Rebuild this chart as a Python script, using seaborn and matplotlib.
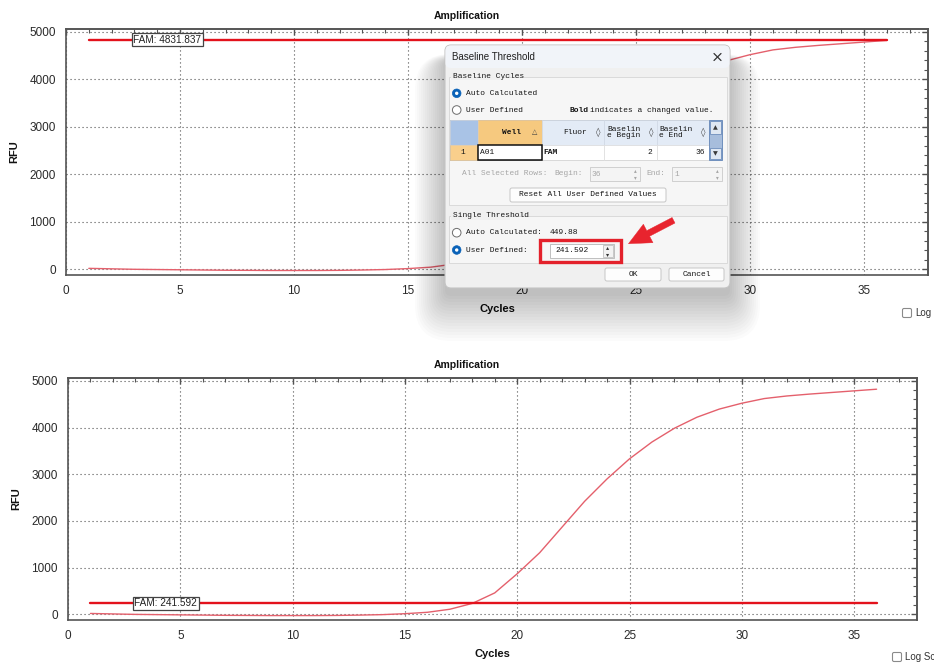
import matplotlib
matplotlib.use("Agg")
import matplotlib.pyplot as plt
import seaborn as sns
from matplotlib.patches import FancyBboxPatch, Rectangle, Circle, FancyArrowPatch
from matplotlib.ticker import MultipleLocator

# ---------------- data ----------------
cycles = list(range(1, 37))
rfu = [20, 10, 0, -5, -10, -15, -20, -22, -25, -25, -25, -22, -15, -5, 15, 45,
       110, 235, 460, 870, 1320, 1870, 2420, 2900, 3330, 3690, 3985, 4220,
       4395, 4520, 4620, 4675, 4715, 4750, 4785, 4820]
threshold_span = [1, 36]
threshold_top = 4831.837
threshold_bottom = 241.592
fluor = "FAM"
chart_title = "Amplification"
x_label = "Cycles"
y_label = "RFU"
x_ticks = [0, 5, 10, 15, 20, 25, 30, 35]
y_ticks = [0, 1000, 2000, 3000, 4000, 5000]
auto_threshold = "449.88"
baseline_begin = "2"
baseline_end = "36"
well = "A01"

sns.set_style("white")
plt.rcParams["font.family"] = ["Liberation Sans", "DejaVu Sans"]

W, H = 934, 664
fig = plt.figure(figsize=(W / 100, H / 100), dpi=100)


def rect(l, t, r, b):
    return [l / W, 1 - b / H, (r - l) / W, (b - t) / H]


CURVE = "#e4606c"
THR = "#e3121c"
AXC = "#555555"


def draw_chart(ax, thr, title_x):
    sns.lineplot(x=cycles, y=rfu, ax=ax, color=CURVE, lw=1.0)
    sns.lineplot(x=threshold_span, y=[thr, thr], ax=ax, color=THR, lw=1.7)
    ax.set_xlim(0, 37.8)
    ax.set_ylim(-120, 5060)
    ax.set_xticks(x_ticks)
    ax.set_yticks(y_ticks)
    ax.xaxis.set_minor_locator(MultipleLocator(1))
    ax.yaxis.set_minor_locator(MultipleLocator(200))
    ax.grid(which="major", color="#505050", ls=(0, (1, 2.6)), lw=0.8)
    ax.tick_params(which="both", direction="inout", top=False, right=False,
                   colors=AXC, labelcolor="#2a2a2a", labelsize=8.5)
    ax.tick_params(which="major", length=6.5, width=1.0, pad=4)
    ax.tick_params(which="minor", length=4, width=0.8)
    # inward ticks on the top and right frame
    sx = ax.secondary_xaxis("top")
    sx.set_xticks(x_ticks)
    sx.xaxis.set_minor_locator(MultipleLocator(1))
    sx.tick_params(which="both", direction="in", labeltop=False, colors=AXC)
    sx.tick_params(which="major", length=4, width=1.0)
    sx.tick_params(which="minor", length=3, width=0.8)
    sy = ax.secondary_yaxis("right")
    sy.set_yticks(y_ticks)
    sy.yaxis.set_minor_locator(MultipleLocator(200))
    sy.tick_params(which="both", direction="in", labelright=False, colors=AXC)
    sy.tick_params(which="major", length=4, width=1.0)
    sy.tick_params(which="minor", length=3, width=0.8)
    for a in (ax, sx, sy):
        for s in a.spines.values():
            s.set_color(AXC)
            s.set_linewidth(1.2)
    ax.set_xlabel(x_label, fontweight="bold", fontsize=8, labelpad=5, color="#111")
    ax.set_ylabel(y_label, fontweight="bold", fontsize=8, labelpad=7, color="#111")
    ax.set_title(chart_title, fontweight="bold", fontsize=7.5, x=title_x, pad=7,
                 color="#111")
    ax.text(2.95, thr, f"{fluor}: {thr:.3f}", fontsize=7.2, va="center", ha="left",
            color="#222", zorder=5,
            bbox=dict(boxstyle="square,pad=0.16", fc="white", ec="#444", lw=0.9))


ax1 = fig.add_axes(rect(66, 29, 928, 275))
draw_chart(ax1, threshold_top, (467 - 66) / (928 - 66))
ax2 = fig.add_axes(rect(68, 378, 917, 620))
draw_chart(ax2, threshold_bottom, (467 - 68) / (917 - 68))

# ---------------- overlay (pixel coordinates) ----------------
ov = fig.add_axes([0, 0, 1, 1], zorder=10)
ov.set_xlim(0, W)
ov.set_ylim(H, 0)
ov.axis("off")
ov.patch.set_alpha(0)

MONO = "Liberation Mono"
FS = 5.7


def mtext(x, y, s, color="#151515", ha="left", weight="normal", fs=FS, family=MONO, **kw):
    ov.text(x, y, s, fontsize=fs, family=family, color=color, ha=ha, va="center",
            fontweight=weight, zorder=4, **kw)


def box(l, t, r, b, fc, ec, lw=0.8, rnd=0.0, z=2, **kw):
    ov.add_patch(FancyBboxPatch((l, t), r - l, b - t,
                                boxstyle=f"round,pad=0,rounding_size={rnd}" if rnd else "square,pad=0",
                                fc=fc, ec=ec, lw=lw, zorder=z, **kw))


# check boxes "Log"
for (cx, cy, label) in [(907, 313, "Log"), (897, 657, "Log Sc")]:
    box(cx - 4.5, cy - 4.5, cx + 4.5, cy + 4.5, "white", "#8a8a8a", lw=0.8, rnd=1.5)
    ov.text(cx + 8, cy, label, fontsize=7, color="#333", va="center", ha="left")

# dialog shadow (mostly below the dialog)
for i in range(16):
    e = 2.0 * i
    ov.add_patch(FancyBboxPatch((445 - e, 60 - e * 0.2), 285 + 2 * e, 236 + e * 1.7,
                                boxstyle=f"round,pad=0,rounding_size={6 + e}",
                                fc="black", ec="none", alpha=0.016, zorder=1))

# dialog body
box(445, 45, 730, 288, "#f0f0f0", "#c4c4c4", lw=0.8, rnd=6, z=2)
box(445.5, 45.5, 729.5, 68, "#f1f4f9", "none", lw=0, rnd=5, z=2.1)
mtext(451.5, 57, "Baseline Threshold", fs=7, family="Liberation Sans", color="#202020")
ov.plot([714, 721], [53.5, 60.5], color="#333", lw=0.9, zorder=3)
ov.plot([714, 721], [60.5, 53.5], color="#333", lw=0.9, zorder=3)

# group boxes
box(449, 77, 727, 205, "#f6f6f6", "#dadada", lw=0.7, z=2.2)
box(449, 216, 727, 263, "#f6f6f6", "#dadada", lw=0.7, z=2.2)
box(451, 72, 502, 80, "#f0f0f0", "none", lw=0, z=2.3)
box(451, 211, 510, 220, "#f0f0f0", "none", lw=0, z=2.3)
mtext(453, 76, "Baseline Cycles")
mtext(453, 215.5, "Single Threshold")


def radio(x, y, on):
    if on:
        ov.add_patch(Circle((x, y), 4.3, fc="#0a62b8", ec="#0a62b8", lw=0.5, zorder=3))
        ov.add_patch(Circle((x, y), 1.7, fc="white", ec="none", zorder=3.1))
    else:
        ov.add_patch(Circle((x, y), 4.3, fc="white", ec="#6d6d6d", lw=0.7, zorder=3))


radio(456.7, 93.3, True)
mtext(465.5, 93.3, "Auto Calculated")
radio(456.7, 110, False)
mtext(465.5, 110, "User Defined")
mtext(570, 110, "Bold", weight="bold")
mtext(590, 110, "indicates a changed value.")

# table
box(450, 120, 709, 160, "white", "#9a9a9a", lw=0.6, z=2.4)
box(450, 120, 478, 145, "#a9c3e6", "#cfd8e4", lw=0.5, z=2.5)
box(478, 120, 542, 145, "#f6c97f", "#e7c9a0", lw=0.5, z=2.5)
box(542, 120, 604, 145, "#e3ebf6", "#cfd8e4", lw=0.5, z=2.5)
box(604, 120, 657, 145, "#e3ebf6", "#cfd8e4", lw=0.5, z=2.5)
box(657, 120, 709, 145, "#e3ebf6", "#cfd8e4", lw=0.5, z=2.5)
box(450, 145, 478, 160, "#f9cf8c", "#e2c9a5", lw=0.5, z=2.5)
box(478, 145, 542, 160, "white", "#111111", lw=1.1, z=2.6)
box(542, 145, 604, 160, "white", "#dcdcdc", lw=0.5, z=2.5)
box(604, 145, 657, 160, "white", "#dcdcdc", lw=0.5, z=2.5)
box(657, 145, 709, 160, "white", "#dcdcdc", lw=0.5, z=2.5)
# scroll bar
box(709, 120, 722, 160, "#a7bddc", "#6f8fbd", lw=0.7, z=2.5)
box(710, 121, 721, 134, "#dfe7f2", "#6f8fbd", lw=0.6, z=2.6)
box(710, 148, 721, 159, "#dfe7f2", "#6f8fbd", lw=0.6, z=2.6)
ov.text(715.5, 127.5, "\u25b2", fontsize=4.5, family="DejaVu Sans", color="#3a3a3a",
        ha="center", va="center", zorder=3)
ov.text(715.5, 153.5, "\u25bc", fontsize=4.5, family="DejaVu Sans", color="#3a3a3a",
        ha="center", va="center", zorder=3)
mtext(502, 132.5, "Well", weight="bold")
ov.text(535, 132, "\u25b3", fontsize=5, family="DejaVu Sans", color="#444",
        ha="center", va="center", zorder=3)
mtext(563, 132.5, "Fluor")
for cx in (598, 651, 703):
    ov.text(cx, 132.5, "\u25ca", fontsize=6.5, family="DejaVu Sans", color="#444",
            ha="center", va="center", zorder=3)
mtext(607, 132.5, "Baselin\ne Begin", linespacing=0.95)
mtext(659, 132.5, "Baselin\ne End", linespacing=0.95)
mtext(463, 152.5, "1", ha="center")
mtext(479.5, 152.5, well)
mtext(543, 152.5, fluor, weight="bold")
mtext(652, 152.5, baseline_begin, ha="right")
mtext(705, 152.5, baseline_end, ha="right")

# all selected rows
GRAY = "#a6a6a6"
mtext(461.7, 173.5, "All Selected Rows:", color=GRAY)
mtext(554.3, 173.5, "Begin:", color=GRAY)
box(590, 167, 640, 181, "#f4f4f4", "#c9c9c9", lw=0.6, z=2.5)
mtext(592, 174, "36", color=GRAY)
mtext(646.5, 173.5, "End:", color=GRAY)
box(672, 167, 722, 181, "#f4f4f4", "#c9c9c9", lw=0.6, z=2.5)
mtext(674, 174, "1", color=GRAY)
for sxp in (632, 714):
    ov.text(sxp + 3, 171, "\u25b4", fontsize=4, family="DejaVu Sans", color=GRAY,
            ha="center", va="center", zorder=3)
    ov.text(sxp + 3, 177.5, "\u25be", fontsize=4, family="DejaVu Sans", color=GRAY,
            ha="center", va="center", zorder=3)

box(510, 188, 666, 202, "#fdfdfd", "#c6c6c6", lw=0.7, rnd=2, z=2.5)
mtext(588, 195, "Reset All User Defined Values", ha="center")

# single threshold
radio(456.7, 232.7, False)
mtext(465.5, 232.7, "Auto Calculated:")
mtext(550, 232.7, auto_threshold)
radio(456.7, 250, True)
mtext(465.5, 250, "User Defined:")
box(550, 244, 614, 258, "white", "#b5b5b5", lw=0.6, z=2.5)
box(603, 245, 613, 257, "#f2f2f2", "#b5b5b5", lw=0.5, z=2.6)
mtext(555, 251, f"{threshold_bottom:.3f}")
ov.text(608, 248, "\u25b4", fontsize=4.5, family="DejaVu Sans", color="#333",
        ha="center", va="center", zorder=3)
ov.text(608, 254.5, "\u25be", fontsize=4.5, family="DejaVu Sans", color="#333",
        ha="center", va="center", zorder=3)
ov.add_patch(Rectangle((539.5, 239.5), 81, 22.5, fc="none", ec="#e3212b", lw=2.4, zorder=4))

# buttons
box(605, 268, 661, 281, "#fdfdfd", "#c6c6c6", lw=0.7, rnd=2, z=2.5)
box(669, 268, 724, 281, "#fdfdfd", "#c6c6c6", lw=0.7, rnd=2, z=2.5)
mtext(633, 274.5, "OK", ha="center")
mtext(696.5, 274.5, "Cancel", ha="center")

# red arrow
ov.add_patch(FancyArrowPatch((676, 219), (626, 245),
                             arrowstyle="simple,head_length=1.6,head_width=1.5,tail_width=0.45",
                             mutation_scale=10, fc="#e8242e", ec="#e8242e", lw=0.3, zorder=5))

fig.savefig("out.png", dpi=100)
